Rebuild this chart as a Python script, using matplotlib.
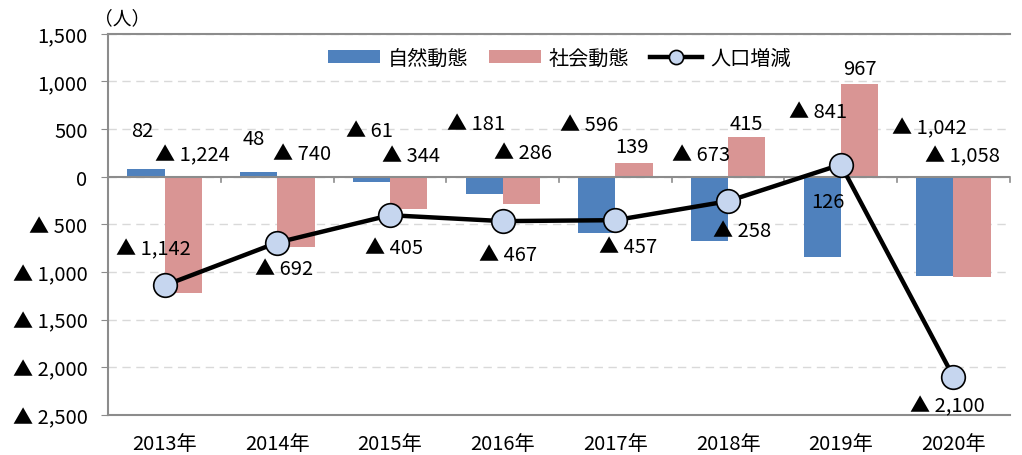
import numpy as np
import matplotlib
matplotlib.use("Agg")
import matplotlib.pyplot as plt

plt.rcParams['font.family'] = ['Noto Sans CJK JP', 'DejaVu Sans']

# データ
years = ["2013年", "2014年", "2015年", "2016年", "2017年", "2018年", "2019年", "2020年"]
natural = [82, 48, -61, -181, -596, -673, -841, -1042]      # 自然動態
social = [-1224, -740, -344, -286, 139, 415, 967, -1058]    # 社会動態
total = [-1142, -692, -405, -467, -457, -258, 126, -2100]   # 人口増減

yticks = [-2500, -2000, -1500, -1000, -500, 0, 500, 1000, 1500]

# ラベル位置 (カテゴリ位置からのずれ, y)
nat_lbl_dx = [-0.20, -0.21, -0.18, -0.24, -0.23, -0.24, -0.20, -0.21]
nat_lbl_y = [483, 399, 483, 557, 546, 231, 683, 515]
soc_lbl_dx = [0.245, 0.22, 0.19, 0.18, 0.15, 0.16, 0.17, 0.08]
soc_lbl_y = [231, 242, 221, 252, 315, 557, 1134, 221]
tot_lbl_dx = [-0.10, 0.06, 0.04, 0.05, 0.11, 0.12, -0.11, -0.05]
tot_lbl_y = [-756, -966, -746, -819, -735, -567, -263, -2405]

BLUE = "#4f81bd"
PINK = "#d99594"


def fmt(v):
    if v < 0:
        return f"▲ {abs(v):,}"
    return f"{v:,}"


fig = plt.figure(figsize=(10.22, 4.56), dpi=100)
ax = fig.add_axes([0.106, 0.088, 0.882, 0.836])

x = np.arange(len(years))
w = 0.33
b1 = ax.bar(x - w / 2, natural, w, color=BLUE, label="自然動態", zorder=2)
b2 = ax.bar(x + w / 2, social, w, color=PINK, label="社会動態", zorder=2)
ln, = ax.plot(x, total, color="black", lw=3.2, marker="o", ms=17,
              mfc="#c6d6ef", mec="black", mew=1.2, label="人口増減", zorder=4)

# 0 の軸線と目盛り
ax.axhline(0, color="#8c8c8c", lw=1.5, zorder=3)
for b in np.arange(len(years) + 1) - 0.5:
    ax.plot([b, b], [0, -60], color="#8c8c8c", lw=1.2, zorder=3, clip_on=False)

fs = 14.5
for i in range(len(years)):
    ax.text(i + nat_lbl_dx[i], nat_lbl_y[i], fmt(natural[i]), ha="center",
            va="center", fontsize=fs, zorder=5)
    ax.text(i + soc_lbl_dx[i], soc_lbl_y[i], fmt(social[i]), ha="center",
            va="center", fontsize=fs, zorder=5)
    ax.text(i + tot_lbl_dx[i], tot_lbl_y[i], fmt(total[i]), ha="center",
            va="center", fontsize=fs, zorder=5)

ax.set_xlim(-0.5, len(years) - 0.5)
ax.set_ylim(-2500, 1500)
ax.set_yticks(yticks)
ax.set_yticklabels([fmt(v) for v in yticks], fontsize=fs)
ax.set_xticks(x)
ax.set_xticklabels(years, fontsize=fs)
ax.tick_params(axis="x", length=0, pad=13)
ax.tick_params(axis="y", length=5, color="#8c8c8c", pad=10)
ax.grid(axis="y", color="#d9d9d9", ls=(0, (6, 4)), lw=1, zorder=0)

for s in ["left", "bottom", "top"]:
    ax.spines[s].set_color("#8c8c8c")
    ax.spines[s].set_linewidth(1.5)
ax.spines["right"].set_visible(False)

ax.text(-0.63, 1560, "（人）", ha="left", va="bottom", fontsize=fs - 1)

leg = ax.legend([b1, b2, ln], ["自然動態", "社会動態", "人口増減"],
                loc="upper center", bbox_to_anchor=(0.5, 1.01), ncol=3,
                frameon=False, fontsize=fs, handlelength=2.6,
                handleheight=0.6, columnspacing=1.0, handletextpad=0.4,
                markerscale=0.6)

fig.savefig("out.png", dpi=100)
